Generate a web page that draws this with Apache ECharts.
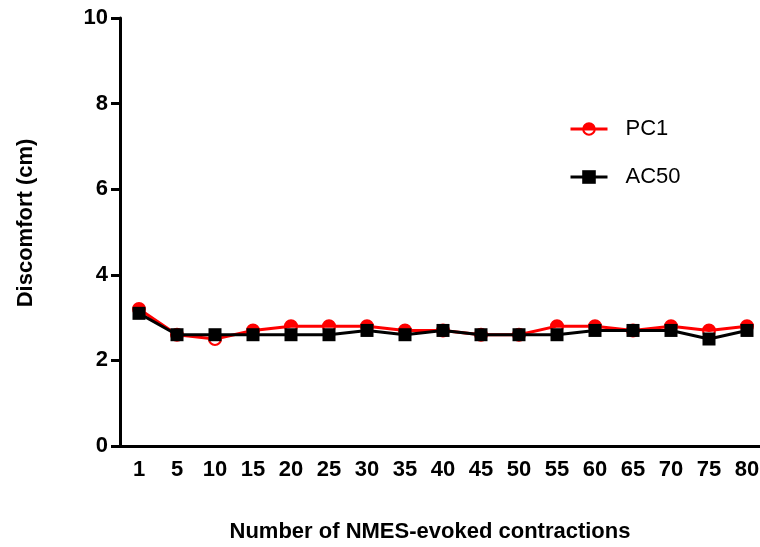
<!DOCTYPE html>
<html>
<head>
<meta charset="utf-8">
<script src="https://cdn.jsdelivr.net/npm/echarts@6/dist/echarts.min.js"></script>
<style>html,body{margin:0;padding:0;background:#fff;}#c{width:760px;height:547px;}</style>
</head>
<body>
<div id="c"></div>
<script>
var categories = ['1','5','10','15','20','25','30','35','40','45','50','55','60','65','70','75','80'];
var pc1 = [3.2, 2.6, 2.5, 2.7, 2.8, 2.8, 2.8, 2.7, 2.7, 2.6, 2.6, 2.8, 2.8, 2.7, 2.8, 2.7, 2.8];
var ac50 = [3.1, 2.6, 2.6, 2.6, 2.6, 2.6, 2.7, 2.6, 2.7, 2.6, 2.6, 2.6, 2.7, 2.7, 2.7, 2.5, 2.7];
var yTicks = { min: 0, max: 10, interval: 2 };
var xTitle = 'Number of NMES-evoked contractions';
var yTitle = 'Discomfort (cm)';

var FONT = '"Liberation Sans", Arial, sans-serif';
var halfCircle = 'path://M-10,0 A10,10 0 0,1 10,0 A10,10 0 0,1 -10,0 Z M-7,0 A7,7 0 0,0 7,0 Z';

var chart = echarts.init(document.getElementById('c'), null, {renderer: 'canvas'});
chart.setOption({
  animation: false,
  backgroundColor: '#ffffff',
  grid: { left: 120, top: 18, width: 646, bottom: 101, containLabel: false, outerBoundsMode: 'none' },
  legend: {
    orient: 'vertical', left: 564, top: 113, itemGap: 26, itemWidth: 37, itemHeight: 17,
    lineStyle: { width: 3 },
    textStyle: { fontFamily: FONT, fontSize: 22, color: '#000', padding: [0, 0, 0, 13] },
    data: ['PC1', 'AC50']
  },
  xAxis: {
    type: 'category', data: categories, boundaryGap: true,
    name: xTitle, nameLocation: 'middle', nameGap: 75,
    nameTextStyle: { fontFamily: FONT, fontSize: 22, fontWeight: 'bold', color: '#000', padding: [0, 26, 0, 0] },
    axisLine: { lineStyle: { color: '#000', width: 3 } },
    axisTick: { alignWithLabel: true, length: 10, lineStyle: { color: '#000', width: 3 } },
    axisLabel: { margin: 13, fontFamily: FONT, fontSize: 22, fontWeight: 'bold', color: '#000', interval: 0 },
    splitLine: { show: false }
  },
  yAxis: {
    type: 'value', min: yTicks.min, max: yTicks.max, interval: yTicks.interval,
    name: yTitle, nameLocation: 'middle', nameGap: 83,
    nameTextStyle: { fontFamily: FONT, fontSize: 22, fontWeight: 'bold', color: '#000', padding: [0, 0, 0, 18] },
    axisLine: { show: true, lineStyle: { color: '#000', width: 3 } },
    axisTick: { show: true, length: 9, lineStyle: { color: '#000', width: 3 } },
    axisLabel: { margin: 12, fontFamily: FONT, fontSize: 22, fontWeight: 'bold', color: '#000' },
    splitLine: { show: false }
  },
  series: [
    {
      name: 'PC1', type: 'line', data: pc1,
      symbol: halfCircle, symbolSize: 14, showAllSymbol: true,
      lineStyle: { color: '#ff0000', width: 3 },
      itemStyle: { color: '#ff0000', borderWidth: 0 },
      z: 2
    },
    {
      name: 'AC50', type: 'line', data: ac50,
      symbol: 'rect', symbolSize: 13, showAllSymbol: true,
      lineStyle: { color: '#000000', width: 3 },
      itemStyle: { color: '#000000', borderWidth: 0 },
      z: 3
    }
  ]
});
</script>
</body>
</html>
